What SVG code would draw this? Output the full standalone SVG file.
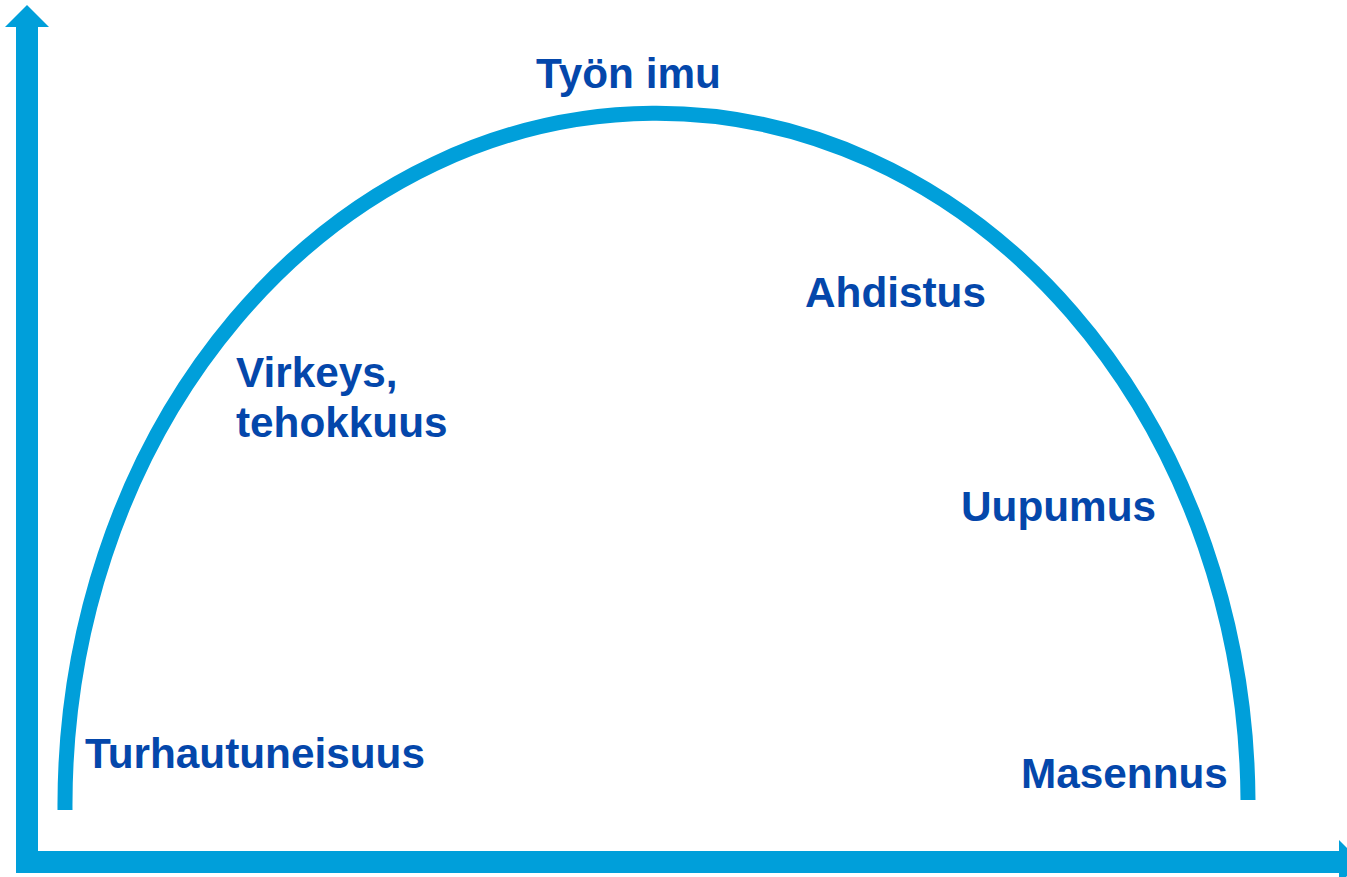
<svg xmlns="http://www.w3.org/2000/svg" width="1347" height="877" viewBox="0 0 1347 877">
<style>
.lbl{font-family:"Liberation Sans",Arial,sans-serif;font-weight:bold;font-size:42.3px;fill:#0447AB}
.ax{fill:#009FDA}
.curve{fill:none;stroke:#009FDA;stroke-width:15}
</style>
<g id="axes">
<polygon class="ax" points="16,875 16,27 5,27 27,5 49,27 38,27 38,851 1339,851 1339,840 1361,862 1339,884 1339,873 16,873"/>
</g>
<g id="connectors">
<path class="curve" d="M 65 810 A 590 690 0 0 1 1248 800"/>
</g>
<g id="n-tyonimu"><text class="lbl" x="536" y="88">Työn imu</text></g>
<g id="n-ahdistus"><text class="lbl" x="805" y="307">Ahdistus</text></g>
<g id="n-virkeys"><text class="lbl" x="236" y="387">Virkeys,</text><text class="lbl" x="236" y="437">tehokkuus</text></g>
<g id="n-uupumus"><text class="lbl" x="961" y="521">Uupumus</text></g>
<g id="n-turhautuneisuus"><text class="lbl" x="85" y="768">Turhautuneisuus</text></g>
<g id="n-masennus"><text class="lbl" x="1021" y="788">Masennus</text></g>
</svg>
